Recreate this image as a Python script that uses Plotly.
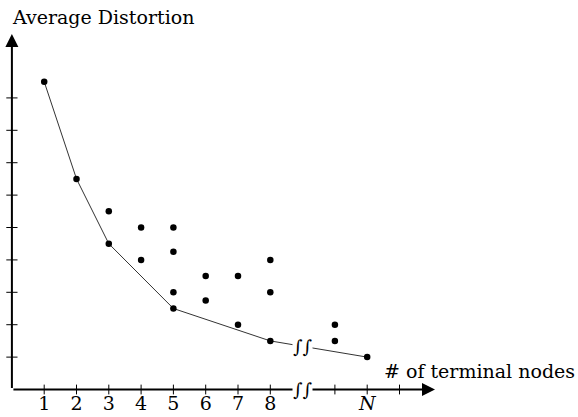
import plotly.graph_objects as go

# Data
x_points = [1, 2, 3, 3, 4, 4, 5, 5, 5, 5, 6, 6, 7, 7, 8, 8, 8, 10, 10, 11]
y_points = [9.5, 6.5, 5.5, 4.5, 5, 4, 5, 4.25, 3, 2.5, 3.5, 2.75, 3.5, 2, 4, 3, 1.5, 2, 1.5, 1]
x_line = [1, 2, 3, 5, 8, 11]
y_line = [9.5, 6.5, 4.5, 2.5, 1.5, 1]
x_tick_vals = [1, 2, 3, 4, 5, 6, 7, 8, 11]
x_tick_text = ["1", "2", "3", "4", "5", "6", "7", "8", "<i>N</i>"]
x_tick_marks = [1, 2, 3, 4, 5, 6, 7, 8, 10, 11, 12]
y_tick_marks = [1, 2, 3, 4, 5, 6, 7, 8, 9]
break_x = 9
title_text = "Average Distortion"
xlabel_text = "# of terminal nodes"

FONT = "DejaVu Serif"

fig = go.Figure()

# lower envelope line
fig.add_trace(go.Scatter(x=x_line, y=y_line, mode="lines",
                         line=dict(color="#333333", width=1), cliponaxis=False,
                         hoverinfo="skip"))
# points
fig.add_trace(go.Scatter(x=x_points, y=y_points, mode="markers",
                         marker=dict(color="black", size=6.5), cliponaxis=False))
# tick marks on x axis
fig.add_trace(go.Scatter(x=x_tick_marks, y=[0] * len(x_tick_marks), mode="markers",
                         marker=dict(symbol="line-ns-open", size=7, color="black",
                                     line=dict(color="black", width=1)),
                         cliponaxis=False, hoverinfo="skip"))
# tick marks on y axis
fig.add_trace(go.Scatter(x=[0] * len(y_tick_marks), y=y_tick_marks, mode="markers",
                         marker=dict(symbol="line-ew-open", size=8, color="black",
                                     line=dict(color="black", width=1)),
                         cliponaxis=False, hoverinfo="skip"))

# axis arrows
arrow_common = dict(xref="x", yref="y", axref="x", ayref="y", text="",
                    showarrow=True, arrowhead=2, arrowsize=1.3, arrowwidth=2,
                    arrowcolor="black", ax=0, ay=0)
fig.add_annotation(x=13.1, y=0, **arrow_common)
fig.add_annotation(x=0, y=10.97, **arrow_common)

# break symbols
line_y_at_break = y_line[4] + (y_line[5] - y_line[4]) * (break_x - x_line[4]) / (x_line[5] - x_line[4])
for by in [line_y_at_break, 0]:
    fig.add_annotation(x=break_x, y=by, xref="x", yref="y", text="<i>∫∫</i>",
                       showarrow=False, font=dict(family=FONT, size=18, color="black"),
                       bgcolor="white", borderpad=0)

# texts
fig.add_annotation(x=10 / 578, y=1 - 17 / 390, xref="paper", yref="paper",
                   text=title_text, showarrow=False, xanchor="left", yanchor="middle",
                   font=dict(family=FONT, size=19, color="black"))
fig.add_annotation(x=382 / 578, y=19 / 390, xref="paper", yref="paper",
                   text=xlabel_text, showarrow=False, xanchor="left", yanchor="middle",
                   font=dict(family=FONT, size=19, color="black"))

px_per_unit_x = 32.3
px_per_unit_y = 32.4
x0 = -11.9 / px_per_unit_x
fig.update_layout(
    width=578, height=417,
    margin=dict(l=0, r=0, t=0, b=27),
    paper_bgcolor="white", plot_bgcolor="white",
    showlegend=False,
    font=dict(family=FONT, color="black"),
    xaxis=dict(range=[x0, x0 + 578 / px_per_unit_x], tickvals=x_tick_vals,
               ticktext=x_tick_text, showgrid=False, zeroline=False, showline=False,
               ticks="", tickfont=dict(family=FONT, size=19, color="black")),
    yaxis=dict(range=[-0.015, -0.015 + 390 / px_per_unit_y], showticklabels=False,
               showgrid=False, zeroline=False, showline=False, ticks=""),
)

fig.write_html("out.html")
